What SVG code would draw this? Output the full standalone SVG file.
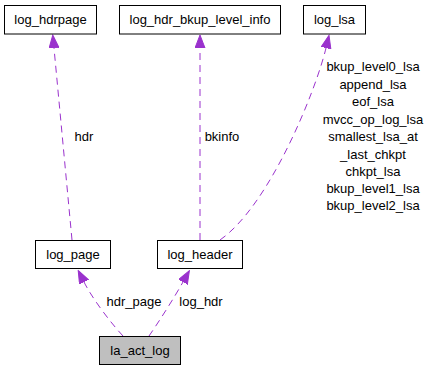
<svg xmlns="http://www.w3.org/2000/svg" width="428" height="371" viewBox="0 0 428 371">
  <style>
    text { font-family: "Liberation Sans", Arial, Helvetica, sans-serif; font-size: 13px; fill: #000; }
    .box { fill: #fff; stroke: #000; stroke-width: 1; }
    .main { fill: #bfbfbf; }
    .edge { fill: none; stroke: #9a32cd; stroke-width: 1; stroke-dasharray: 7,5; marker-end: url(#arrow); }
    .mid { text-anchor: middle; }
  </style>
  <defs>
    <marker id="arrow" markerUnits="userSpaceOnUse" markerWidth="14" markerHeight="11" refX="0" refY="5" orient="auto">
      <path d="M0,0 L13,5 L0,10 z" fill="#9a32cd" stroke="#9a32cd" stroke-width="1"/>
    </marker>
  </defs>

  <!-- connectors -->
  <g id="edges">
    <path class="edge" d="M72,240 L54,48"/>
    <path class="edge" d="M200,240 L200,48"/>
    <path class="edge" d="M220,240 C270,205 316,90 326,48"/>
    <path class="edge" d="M123,336 C110,322 92,298 84,282"/>
    <path class="edge" d="M149,336 C160,320 174,298 183,282"/>
  </g>

  <!-- connector labels -->
  <g id="edge-labels">
    <text class="mid" x="84" y="141">hdr</text>
    <text class="mid" x="222" y="141">bkinfo</text>
    <text class="mid" x="134" y="306">hdr_page</text>
    <text class="mid" x="201" y="306">log_hdr</text>
    <text class="mid" x="373" y="71">bkup_level0_lsa</text>
    <text class="mid" x="373" y="88.5">append_lsa</text>
    <text class="mid" x="373" y="106">eof_lsa</text>
    <text class="mid" x="373" y="123.5">mvcc_op_log_lsa</text>
    <text class="mid" x="373" y="141">smallest_lsa_at</text>
    <text class="mid" x="373" y="158.5">_last_chkpt</text>
    <text class="mid" x="373" y="175.5">chkpt_lsa</text>
    <text class="mid" x="373" y="193">bkup_level1_lsa</text>
    <text class="mid" x="373" y="210">bkup_level2_lsa</text>
  </g>

  <!-- nodes -->
  <g id="log_hdrpage">
    <rect class="box" x="4.5" y="5.5" width="92" height="28.5"/>
    <text class="mid" x="50.5" y="24">log_hdrpage</text>
  </g>
  <g id="log_hdr_bkup_level_info">
    <rect class="box" x="119.5" y="5.5" width="161" height="28.5"/>
    <text class="mid" x="200" y="24">log_hdr_bkup_level_info</text>
  </g>
  <g id="log_lsa">
    <rect class="box" x="303.5" y="5.5" width="62" height="28.5"/>
    <text class="mid" x="334.5" y="24">log_lsa</text>
  </g>
  <g id="log_page">
    <rect class="box" x="35.5" y="240.5" width="75" height="28"/>
    <text class="mid" x="73" y="259">log_page</text>
  </g>
  <g id="log_header">
    <rect class="box" x="157.5" y="240.5" width="85" height="28"/>
    <text class="mid" x="200" y="259">log_header</text>
  </g>
  <g id="la_act_log">
    <rect class="box main" x="99.5" y="336.5" width="81" height="28"/>
    <text class="mid" x="140" y="355">la_act_log</text>
  </g>
</svg>
